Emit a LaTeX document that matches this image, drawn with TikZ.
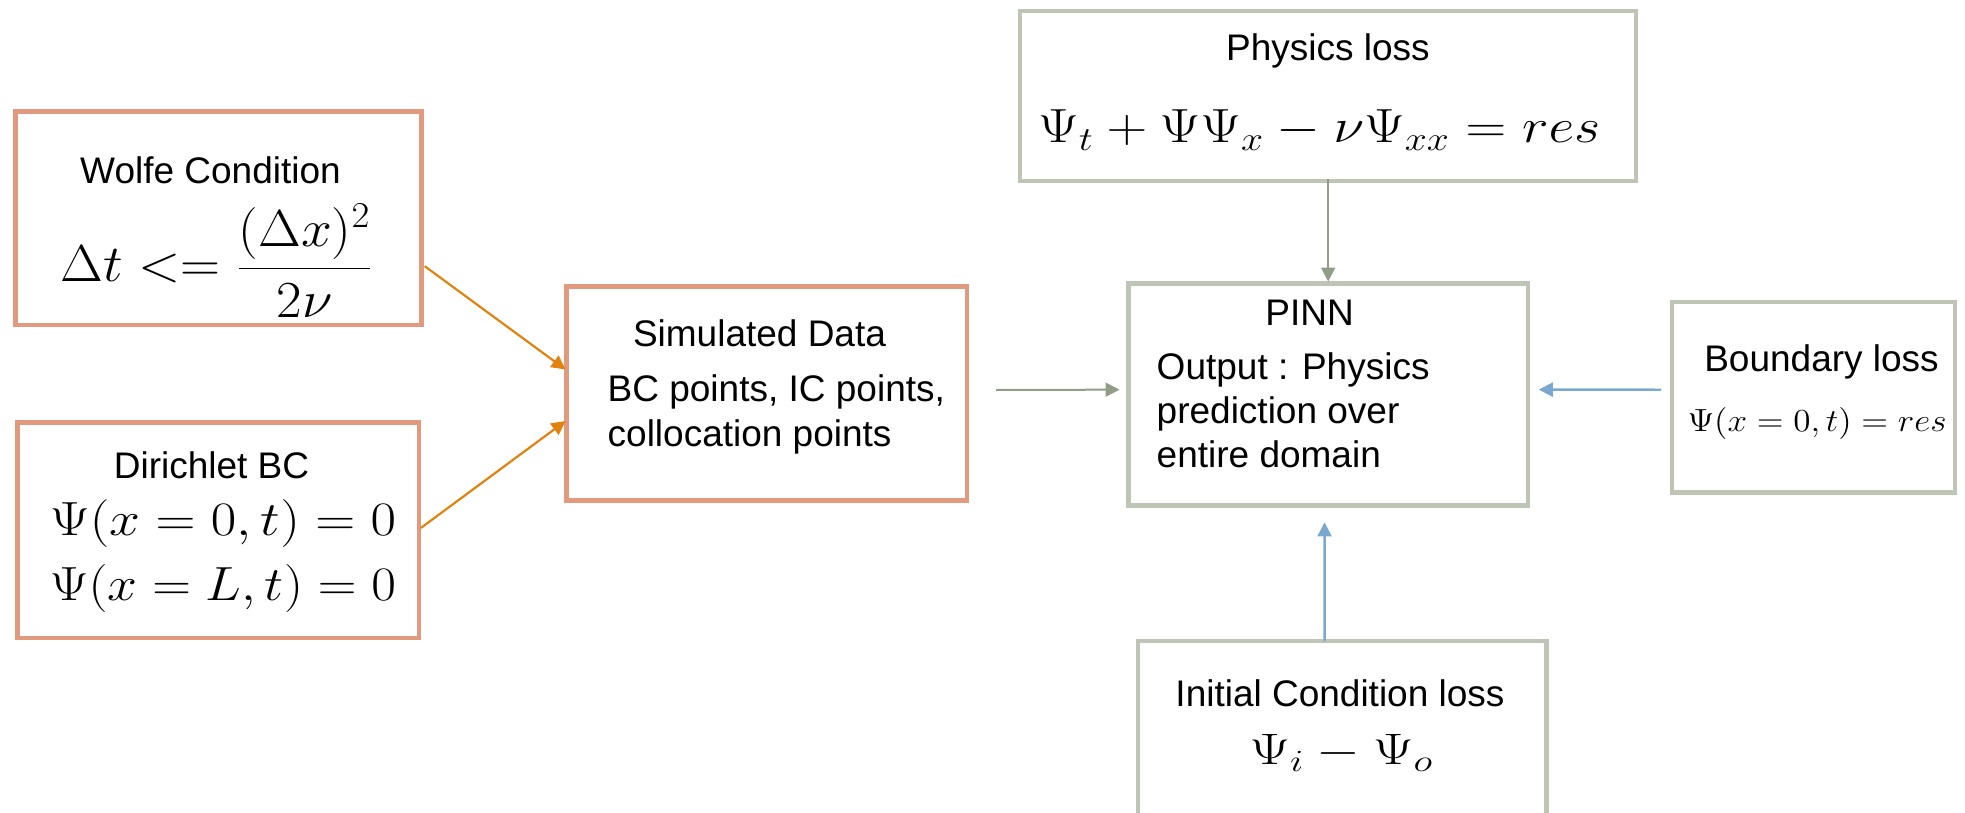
\RequirePackage{fix-cm}
\documentclass[tikz,border=0pt]{standalone}
\usepackage{graphicx}
\usepackage{fontspec}
\setmainfont{Liberation Sans}
\usetikzlibrary{arrows.meta,calc}
\definecolor{salmon}{HTML}{E29A7E}
\definecolor{darkorange}{HTML}{E3830F}
\definecolor{sage}{HTML}{BEC5B4}
\definecolor{sagearrow}{HTML}{919D87}
\definecolor{bluearrow}{HTML}{7BA8CF}
\begin{document}
\begin{tikzpicture}[x=0.5pt,y=-0.5pt,
  box/.style={draw, rectangle, line width=2.25pt, inner sep=0pt, outer sep=0pt},
  redbox/.style={box, draw=salmon},
  graybox/.style={box, draw=sage},
  lbl/.style={font=\fontsize{18.5}{22}\selectfont, inner sep=0pt, anchor=base},
  mth/.style={inner sep=0pt, anchor=base, font=\fontsize{24}{28}\selectfont},
  tip/.style={-{Triangle[length=7pt,width=7pt]}},
  oarrow/.style={tip, draw=darkorange, line width=1.1pt},
  garrow/.style={tip, draw=sagearrow, line width=1pt},
  barrow/.style={tip, draw=bluearrow, line width=1.2pt}
]
\useasboundingbox (0,0) rectangle (1965,813);
\clip (0,0) rectangle (1965,813);

% left column
\node[redbox, minimum width=203pt, minimum height=106.9pt] (wolfe) at (218.7,218.2) {};
\node[lbl] (wolfeT) at (210.5,183.8) {Wolfe Condition};
\node[mth, font=\fontsize{26}{30}\selectfont] (wolfeF) at (217,281.4) {\resizebox{156pt}{\height}{$\displaystyle \Delta t <= \frac{(\Delta x)^2}{2\nu}$}};

\node[redbox, minimum width=200.6pt, minimum height=107.75pt] (dir) at (218.2,530) {};
\node[lbl] (dirT) at (211.5,478.4) {Dirichlet BC};
\node[mth] (dirA) at (223,535) {\resizebox{173pt}{\height}{$\Psi(x=0,t)=0$}};
\node[mth] (dirB) at (223,600) {\resizebox{173pt}{\height}{$\Psi(x=L,t)=0$}};

% simulated data
\node[redbox, minimum width=200.25pt, minimum height=106.95pt] (sim) at (766.8,393.5) {};
\node[lbl] (simT) at (759.5,346.7) {Simulated Data};
\node[lbl, anchor=base west] (simA) at (607.3,401.7) {BC points, IC points,};
\node[lbl, anchor=base west] (simB) at (607.3,446.7) {collocation points};

% physics loss
\node[graybox, minimum width=308pt, minimum height=84.8pt] (phys) at (1328.15,95.95) {};
\node[lbl] (physT) at (1328,60.3) {Physics loss};
\node[mth] (physF) at (1319.2,142.9) {\resizebox{281pt}{\height}{$\Psi_t+\Psi\Psi_x-\nu\Psi_{xx}=res$}};

% PINN
\node[graybox, minimum width=199.6pt, minimum height=110.9pt] (pinn) at (1328.15,394.45) {};
\node[lbl] (pinnT) at (1309.6,325.9) {PINN};
\node[lbl, anchor=base west] (pinnA) at (1156.3,379.5) {Output : Physics};
\node[lbl, anchor=base west] (pinnB) at (1156.3,423) {prediction over};
\node[lbl, anchor=base west] (pinnC) at (1156.3,467.5) {entire domain};

% boundary loss
\node[graybox, minimum width=141.5pt, minimum height=95.25pt] (bnd) at (1813.55,397.2) {};
\node[lbl] (bndT) at (1821.5,371.8) {Boundary loss};
\node[mth, font=\fontsize{16}{19}\selectfont] (bndF) at (1817,431) {\resizebox{129.5pt}{\height}{$\Psi(x=0,t)=res$}};

% initial condition loss
\node[graybox, minimum width=204.25pt, minimum height=129.5pt] (init) at (1342,770.5) {};
\node[lbl] (initT) at (1340,706.3) {Initial Condition loss};
\node[mth, font=\fontsize{22}{26}\selectfont] (initF) at (1341.5,764.7) {\resizebox{92pt}{\height}{$\Psi_i-\Psi_o$}};

% connectors
\draw[oarrow] ($(wolfe.east)+(3,48)$) -- ($(sim.west)+(-1,-24)$);
\draw[oarrow] ($(dir.east)+(2,-2)$) -- ($(sim.west)+(-1,27.5)$);
\draw[garrow] ($(sim.east)+(29,-3.5)$) -- ($(pinn.west)+(-9,-4.8)$);
\draw[garrow] ($(phys.south)+(0,-2)$) -- ($(pinn.north)+(0,-2)$);
\draw[barrow] ($(bnd.west)+(-11,-7.5)$) -- ($(pinn.east)+(11,-4.8)$);
\draw[barrow] ($(init.north)+(-17.4,0)$) -- ($(pinn.south)+(-3.6,17)$);
\end{tikzpicture}
\end{document}
